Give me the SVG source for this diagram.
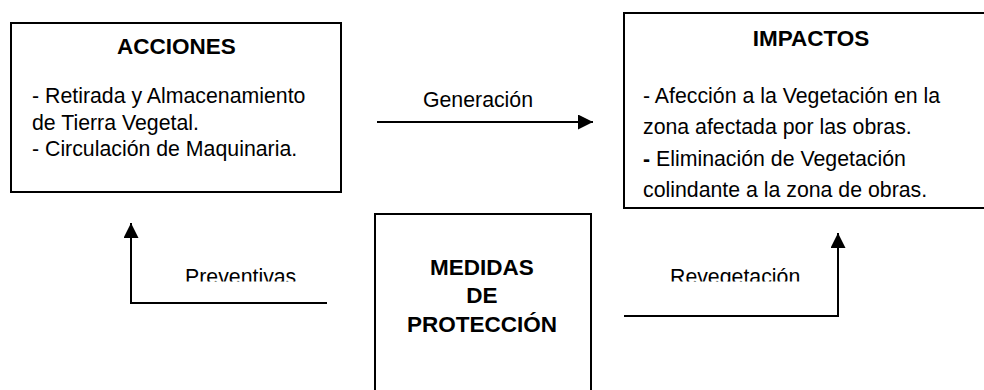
<svg xmlns="http://www.w3.org/2000/svg" width="984" height="390" viewBox="0 0 984 390">
<style>
.box{fill:#fff;stroke:#000;stroke-width:2}
.t{font-family:"Liberation Sans",Arial,sans-serif;font-size:21.3px;fill:#000}
.h{font-family:"Liberation Sans",Arial,sans-serif;font-size:22.5px;font-weight:bold;fill:#000;text-anchor:middle}
.c{fill:none;stroke:#000;stroke-width:2}
</style>
<defs>
<marker id="ah" markerUnits="userSpaceOnUse" markerWidth="16" markerHeight="15" refX="15" refY="7.5" orient="auto">
<path d="M0,0 L15,7.5 L0,15 z" fill="#000"/>
</marker>
<clipPath id="clipLbl"><rect x="0" y="0" width="984" height="281.5"/></clipPath>
</defs>
<rect width="984" height="390" fill="#fff"/>
<g id="acciones">
<rect class="box" x="11" y="23" width="330" height="169"/>
<text class="h" x="176.5" y="53.5">ACCIONES</text>
<text class="t" x="32" y="103">- Retirada y Almacenamiento</text>
<text class="t" x="32" y="129.5">de Tierra Vegetal.</text>
<text class="t" x="32" y="156">- Circulación de Maquinaria.</text>
</g>
<g id="impactos">
<rect class="box" x="624" y="13" width="380" height="195"/>
<text class="h" x="811" y="46">IMPACTOS</text>
<text class="t" x="643" y="102.5">- Afección a la Vegetación en la</text>
<text class="t" x="643" y="134">zona afectada por las obras.</text>
<text class="t" x="643" y="165.5"><tspan font-weight="bold">-</tspan> Eliminación de Vegetación</text>
<text class="t" x="643" y="197">colindante a la zona de obras.</text>
</g>
<g id="medidas">
<rect class="box" x="375" y="214" width="216" height="190"/>
<text class="h" x="482" y="275">MEDIDAS</text>
<text class="h" x="482" y="303">DE</text>
<text class="h" x="482" y="332">PROTECCIÓN</text>
</g>
<g id="connectors">
<path class="c" d="M377,122 L593,122" marker-end="url(#ah)"/>
<text class="t" x="478" y="107" text-anchor="middle">Generación</text>
<path class="c" d="M327,303 L131,303 L131,223" marker-end="url(#ah)"/>
<text class="t" x="185" y="283.5" clip-path="url(#clipLbl)">Preventivas</text>
<path class="c" d="M624,316 L838,316 L838,233" marker-end="url(#ah)"/>
<text class="t" x="670" y="283.5" clip-path="url(#clipLbl)">Revegetación</text>
</g>
</svg>
